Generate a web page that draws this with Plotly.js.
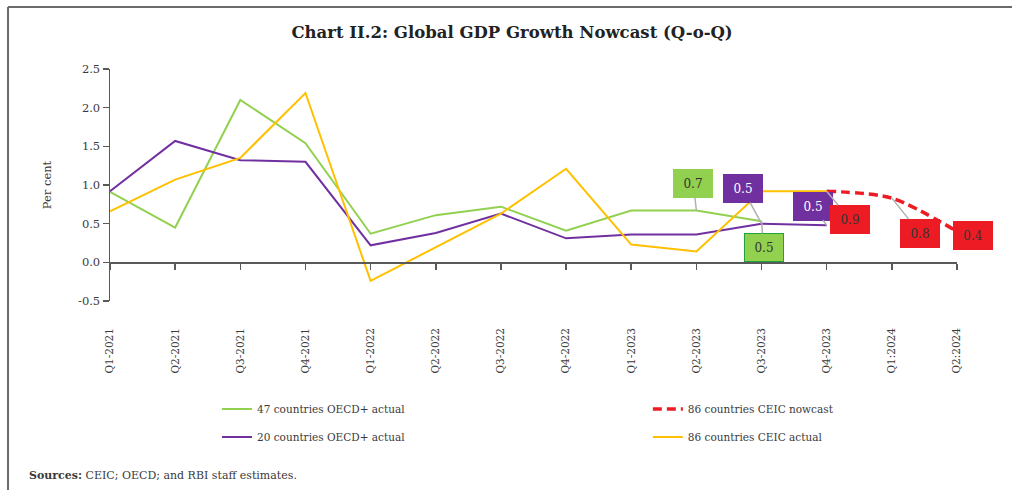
<!DOCTYPE html>
<html>
<head>
<meta charset="utf-8">
<script src="https://cdn.plot.ly/plotly-3.0.1.min.js"></script>
<style>html,body{margin:0;padding:0;background:#fff;}#chart{width:1012px;height:490px;}</style>
</head>
<body>
<div id="chart"></div>
<script>
// ---- data ----
const quarters = ['Q1-2021','Q2-2021','Q3-2021','Q4-2021','Q1-2022','Q2-2022','Q3-2022','Q4-2022','Q1-2023','Q2-2023','Q3-2023','Q4-2023','Q1:2024','Q2:2024'];
const oecd47Actual = [0.91,0.45,2.10,1.54,0.37,0.61,0.72,0.41,0.67,0.67,0.53];
const oecd20Actual = [0.92,1.57,1.32,1.30,0.22,0.38,0.63,0.31,0.36,0.36,0.50,0.48];
const ceic86Actual = [0.66,1.07,1.35,2.19,-0.24,0.20,0.63,1.21,0.23,0.14,0.92,0.92];
const ceic86Nowcast = [null,null,null,null,null,null,null,null,null,null,null,0.92,0.83,0.40];
const seriesNames = ['47 countries OECD+ actual','20 countries OECD+ actual','86 countries CEIC actual','86 countries CEIC nowcast'];
const yTickVals = [-0.5,0,0.5,1,1.5,2,2.5];
const yTickText = ['-0.5','0.0','0.5','1.0','1.5','2.0','2.5'];

const FONT = 'DejaVu Serif, Liberation Serif, serif';
const TXT = '#3a3a3a';
const C = {green:'#92D050', purple:'#7030A0', yellow:'#FFC000', red:'#ED1C24'};

const traces = [
  {x: quarters.slice(0, oecd47Actual.length), y: oecd47Actual, name: seriesNames[0], type:'scatter', mode:'lines',
   line:{color:C.green, width:2}, legend:'legend', cliponaxis:false},
  {x: quarters.slice(0, oecd20Actual.length), y: oecd20Actual, name: seriesNames[1], type:'scatter', mode:'lines',
   line:{color:C.purple, width:2}, legend:'legend2', cliponaxis:false},
  {x: quarters.slice(0, ceic86Actual.length), y: ceic86Actual, name: seriesNames[2], type:'scatter', mode:'lines',
   line:{color:C.yellow, width:2}, legend:'legend4', cliponaxis:false},
  {x: quarters, y: ceic86Nowcast, name: seriesNames[3], type:'scatter', mode:'lines', connectgaps:false,
   line:{color:C.red, width:3.5, dash:'9px,5px', shape:'spline', smoothing:0.8}, legend:'legend3', cliponaxis:false}
];

// label boxes: [series array, index, ax, ay, fill, border, text colour]
const labelSpecs = [
  [oecd47Actual, 9, -3, -27, C.green, C.green, '#333'],
  [oecd20Actual, 10, -19, -35, C.purple, C.purple, '#fff'],
  [oecd20Actual, 11, -14, -19, C.purple, C.purple, '#fff'],
  [ceic86Nowcast, 11, 23, 28, C.red, C.red, '#333'],
  [ceic86Nowcast, 12, 28, 35, C.red, C.red, '#333'],
  [ceic86Nowcast, 13, 16, 4, C.red, C.red, '#333'],
  [oecd47Actual, 10, 2, 26, C.green, '#1FA33A', '#333']
];
const annotations = labelSpecs.map(s => ({
  x: quarters[s[1]], y: s[0][s[1]], xref:'x', yref:'y',
  text: s[0][s[1]].toFixed(1), showarrow:true, arrowhead:0, arrowwidth:1.5, arrowcolor:'#B0B0B0',
  ax: s[2], ay: s[3], axref:'pixel', ayref:'pixel',
  bgcolor: s[4], bordercolor: s[5], borderwidth:1, width:38, height:27, borderpad:0,
  font:{family:FONT, size:12, color:s[6]}, xanchor:'center', yanchor:'middle'
}));
annotations.push({
  xref:'paper', yref:'paper', x:-0.098, y:-0.75, xanchor:'left', yanchor:'middle', showarrow:false,
  text:'<b>Sources:</b> CEIC; OECD; and RBI staff estimates.', font:{family:FONT, size:11, color:TXT}
});

function legendAt(x, y) {
  return {orientation:'h', x:x, xanchor:'left', y:y, yanchor:'middle',
          font:{family:FONT, size:10.5, color:TXT}, bgcolor:'rgba(0,0,0,0)'};
}

const layout = {
  width:1012, height:490,
  margin:{l:110, r:55, t:69, b:189},
  paper_bgcolor:'#fff', plot_bgcolor:'#fff',
  title:{text:'<b>Chart II.2: Global GDP Growth Nowcast (Q-o-Q)</b>', xref:'container', x:0.506, xanchor:'center',
         yref:'container', y:0.935, yanchor:'middle', font:{family:FONT, size:16.5, color:'#222'}},
  xaxis:{type:'category', categoryorder:'array', categoryarray:quarters, range:[0,13],
         anchor:'free', position:0.5/3, showline:true, linecolor:'#595959', linewidth:1.5,
         ticks:'outside', ticklen:6, tickcolor:'#595959', tickwidth:1.5, showgrid:false, zeroline:false,
         tickangle:-90, ticklabelstandoff:54, tickfont:{family:FONT, size:10.5, color:TXT}},
  yaxis:{range:[-0.5,2.5], tickvals:yTickVals, ticktext:yTickText, showline:true, linecolor:'#595959', linewidth:1.5,
         ticks:'outside', ticklen:6, tickcolor:'#595959', tickwidth:1.5, showgrid:false, zeroline:false,
         tickfont:{family:FONT, size:11.5, color:TXT},
         title:{text:'Per cent', standoff:24, font:{family:FONT, size:11.5, color:TXT}}},
  legend: legendAt(0.1263, -0.4655),
  legend2: legendAt(0.1263, -0.586),
  legend3: legendAt(0.635, -0.4655),
  legend4: legendAt(0.635, -0.586),
  showlegend:true,
  annotations: annotations,
  shapes:[
    {type:'line', xref:'paper', yref:'paper', x0:-0.1204, x1:-0.1204, y0:-0.9, y1:1.267, line:{color:'#6b6b6b', width:2}},
    {type:'line', xref:'paper', yref:'paper', x0:-0.1204, x1:1.1, y0:1.267, y1:1.267, line:{color:'#6b6b6b', width:2}}
  ]
};

Plotly.newPlot('chart', traces, layout, {displayModeBar:false, staticPlot:true});
</script>
</body>
</html>
